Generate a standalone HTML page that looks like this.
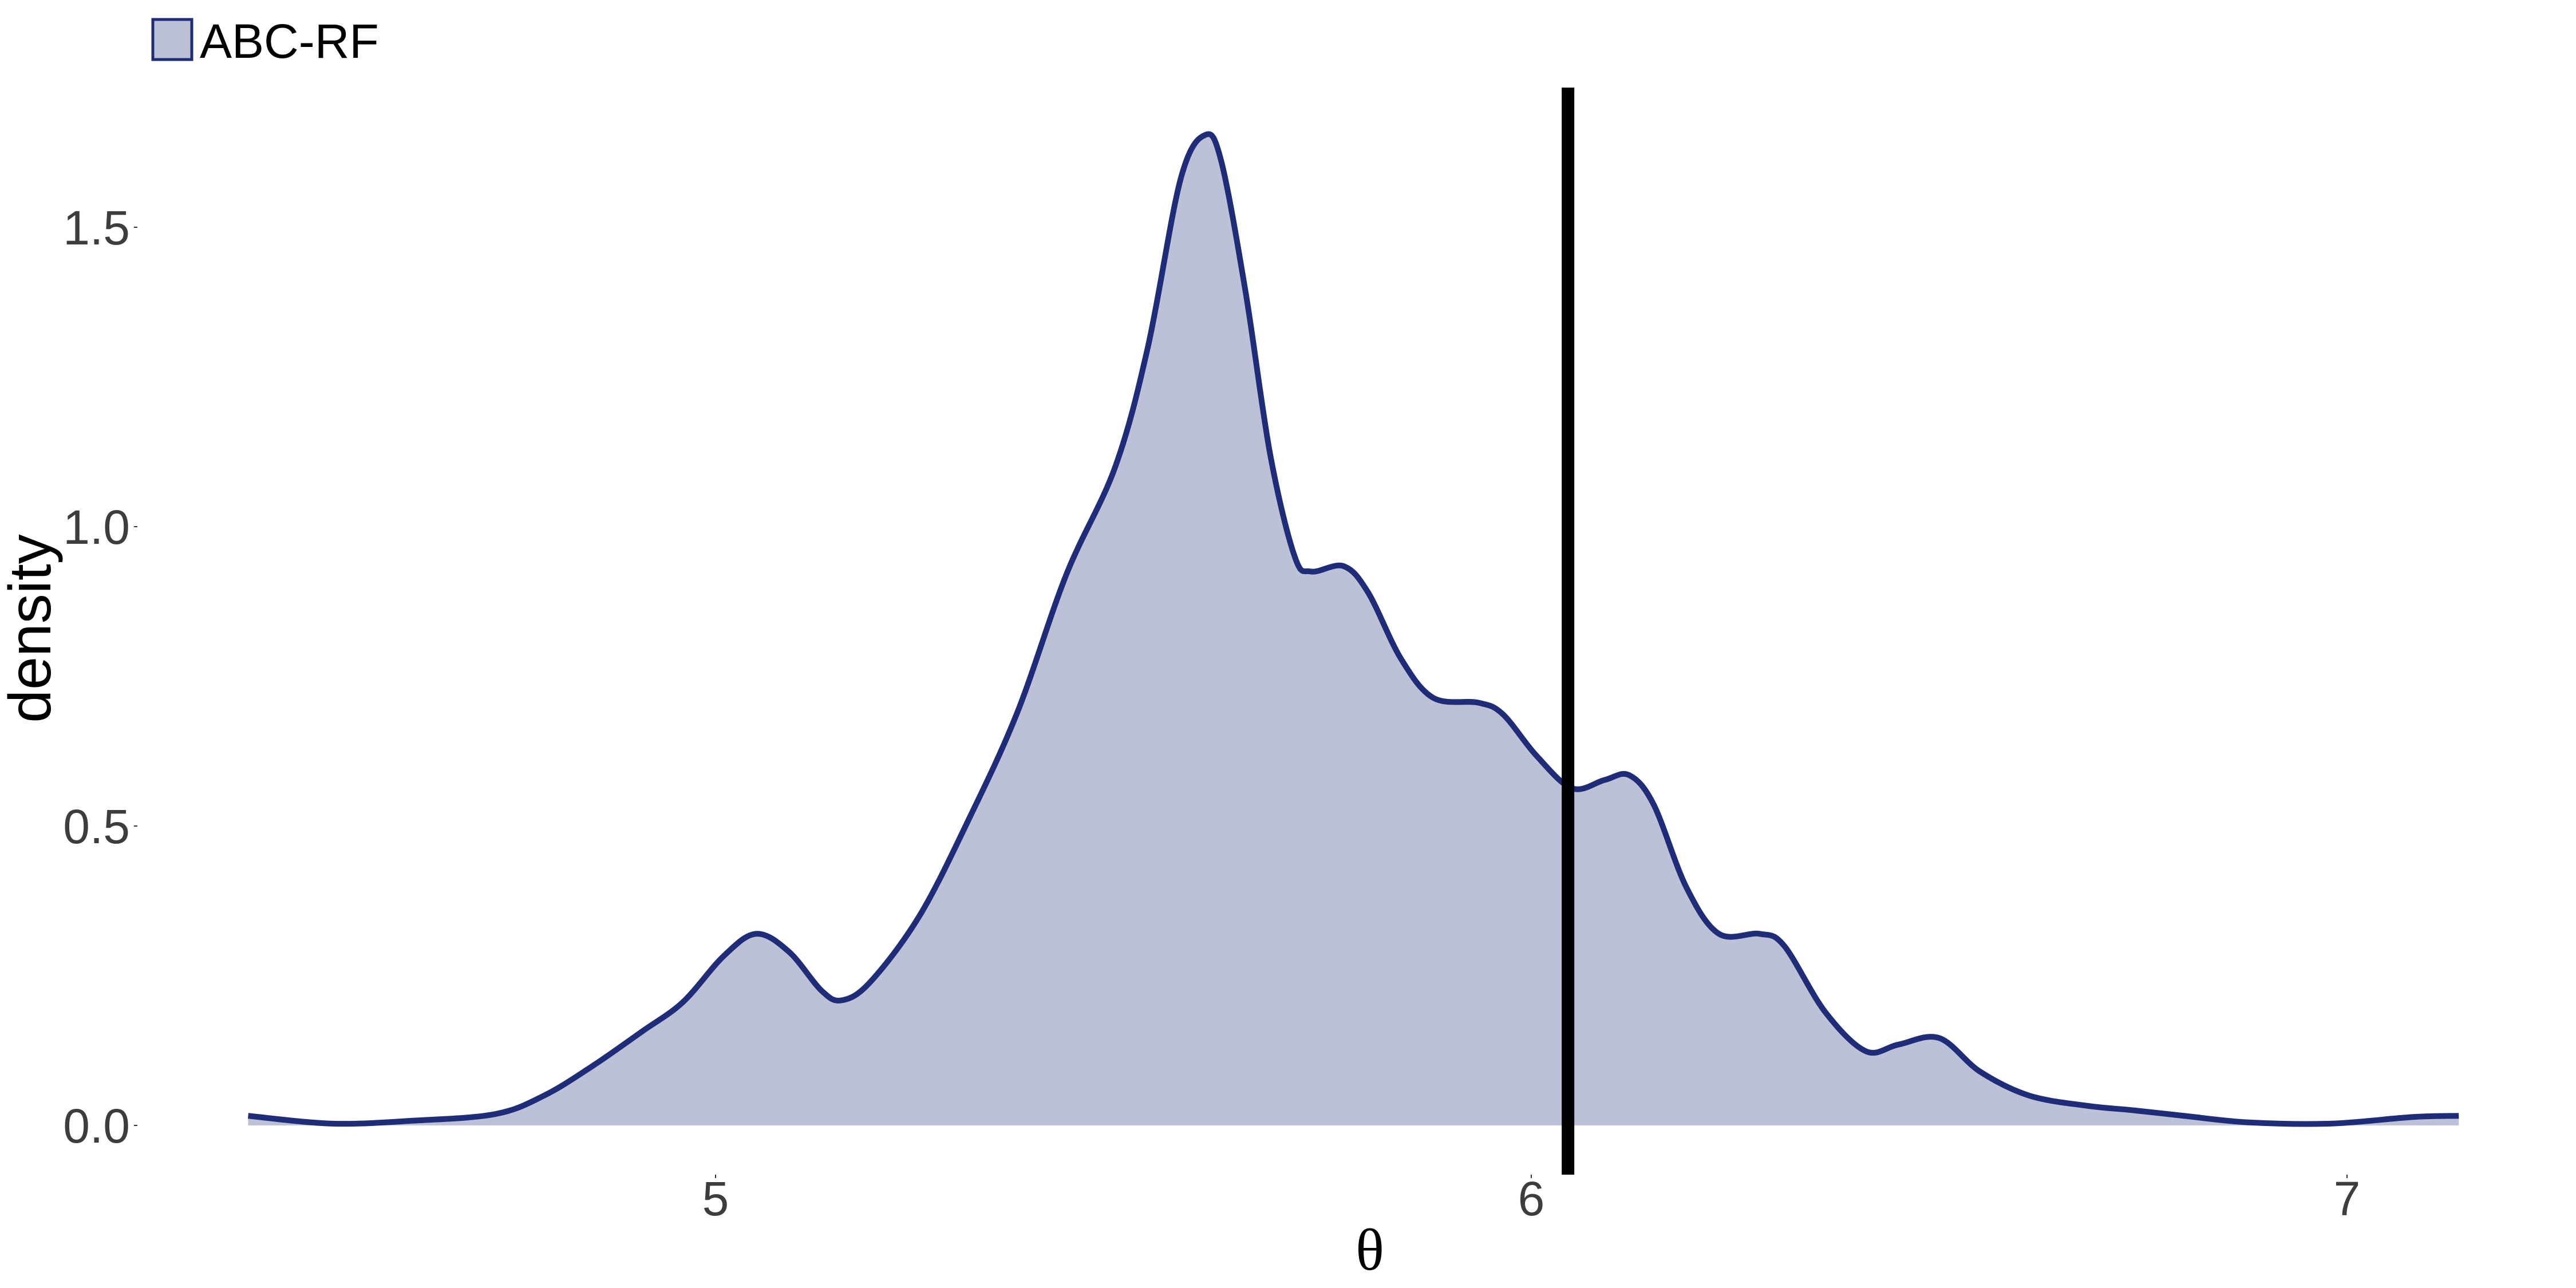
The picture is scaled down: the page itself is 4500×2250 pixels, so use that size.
<!DOCTYPE html>
<html><head><meta charset="utf-8"><style>
html,body{margin:0;padding:0;background:#fff;}
svg{display:block;}
</style></head><body>
<svg id="chart" width="4500" height="2250" viewBox="0 0 4500 2250" xmlns="http://www.w3.org/2000/svg">
<g>
<rect x="267" y="34" width="68" height="70" fill="#bcc1d8" stroke="#1f2d78" stroke-width="5"/>
<text x="349" y="101" font-family="Liberation Sans, sans-serif" font-size="84" fill="#000">ABC-RF</text>
</g>
<text transform="translate(88,1098) rotate(-90)" text-anchor="middle" font-family="Liberation Sans, sans-serif" font-size="104" fill="#000">density</text>
<text x="2393" y="2218" text-anchor="middle" font-family="Liberation Serif, serif" font-size="104" fill="#000">θ</text>
<g id="yticks"></g>
<g id="xticks"></g>
<path id="area" fill="#bcc1d8" stroke="none"/>
<path id="line" fill="none" stroke="#1f2d78" stroke-width="10" stroke-linejoin="round"/>
<rect id="vline" fill="#000"/>
</svg>
<script>
const xs = [4.427,4.53,4.63,4.73,4.79,4.85,4.91,4.96,5.01,5.05,5.09,5.13,5.155,5.19,5.25,5.31,5.37,5.43,5.49,5.53,5.57,5.60,5.62,5.65,5.68,5.71,5.73,5.77,5.80,5.84,5.88,5.935,5.965,6.006,6.05,6.09,6.12,6.15,6.19,6.23,6.28,6.31,6.36,6.41,6.45,6.50,6.55,6.61,6.68,6.74,6.80,6.88,6.98,7.08,7.137];
const ys = [0.016,0.003,0.008,0.019,0.05,0.10,0.157,0.206,0.283,0.32,0.29,0.225,0.209,0.24,0.35,0.51,0.69,0.92,1.10,1.30,1.58,1.654,1.61,1.39,1.12,0.95,0.925,0.934,0.89,0.78,0.714,0.706,0.687,0.618,0.563,0.577,0.585,0.536,0.398,0.32,0.32,0.30,0.19,0.124,0.135,0.146,0.09,0.05,0.033,0.025,0.016,0.005,0.003,0.014,0.016];
const xTicks = [5,6,7];
const yTicks = [0.0,0.5,1.0,1.5];
const yTickLabels = ["0.0","0.5","1.0","1.5"];
const trueValue = 6.045;

const X = v => 1250 + (v - 5) * 1425;
const Y = v => 1966 - v * 1046;
const NS = "http://www.w3.org/2000/svg";

const pts = xs.map((x,i)=>[X(x),Y(ys[i])]);
let d = `M${pts[0][0]},${pts[0][1]}`;
for(let i=0;i<pts.length-1;i++){
  const p0=pts[Math.max(0,i-1)],p1=pts[i],p2=pts[i+1],p3=pts[Math.min(pts.length-1,i+2)];
  const c1=[p1[0]+(p2[0]-p0[0])/6,p1[1]+(p2[1]-p0[1])/6];
  const c2=[p2[0]-(p3[0]-p1[0])/6,p2[1]-(p3[1]-p1[1])/6];
  d+=` C${c1[0]},${c1[1]} ${c2[0]},${c2[1]} ${p2[0]},${p2[1]}`;
}
document.getElementById('line').setAttribute('d', d);
document.getElementById('area').setAttribute('d', d + ` L${pts[pts.length-1][0]},${Y(0)} L${pts[0][0]},${Y(0)} Z`);

const vl = document.getElementById('vline');
vl.setAttribute('x', X(trueValue) - 11);
vl.setAttribute('y', 153);
vl.setAttribute('width', 22);
vl.setAttribute('height', 2052 - 153);

const yg = document.getElementById('yticks');
yTicks.forEach((v,i)=>{
  const t = document.createElementNS(NS,'text');
  
  
  t.setAttribute('x', 227); t.setAttribute('y', Y(v) + 30);
  t.setAttribute('text-anchor','end');
  t.setAttribute('font-family','Liberation Sans, sans-serif');
  t.setAttribute('font-size','84'); t.setAttribute('fill','#3d3d3d');
  t.textContent = yTickLabels[i];
  yg.appendChild(t);
  const m = document.createElementNS(NS,'line');
  
  
  m.setAttribute('x1',234); m.setAttribute('x2',240);
  m.setAttribute('y1',Y(v)); m.setAttribute('y2',Y(v));
  m.setAttribute('stroke','#333'); m.setAttribute('stroke-width','2');
  yg.appendChild(m);
});
const xg = document.getElementById('xticks');
xTicks.forEach(v=>{
  const t = document.createElementNS(NS,'text');
  
  
  t.setAttribute('x', X(v)); t.setAttribute('y', 2123);
  t.setAttribute('text-anchor','middle');
  t.setAttribute('font-family','Liberation Sans, sans-serif');
  t.setAttribute('font-size','84'); t.setAttribute('fill','#3d3d3d');
  t.textContent = String(v);
  xg.appendChild(t);
  const m = document.createElementNS(NS,'line');
  
  
  m.setAttribute('x1',X(v)); m.setAttribute('x2',X(v));
  m.setAttribute('y1',2052); m.setAttribute('y2',2058);
  m.setAttribute('stroke','#333'); m.setAttribute('stroke-width','2');
  xg.appendChild(m);
});
</script>
</body></html>
